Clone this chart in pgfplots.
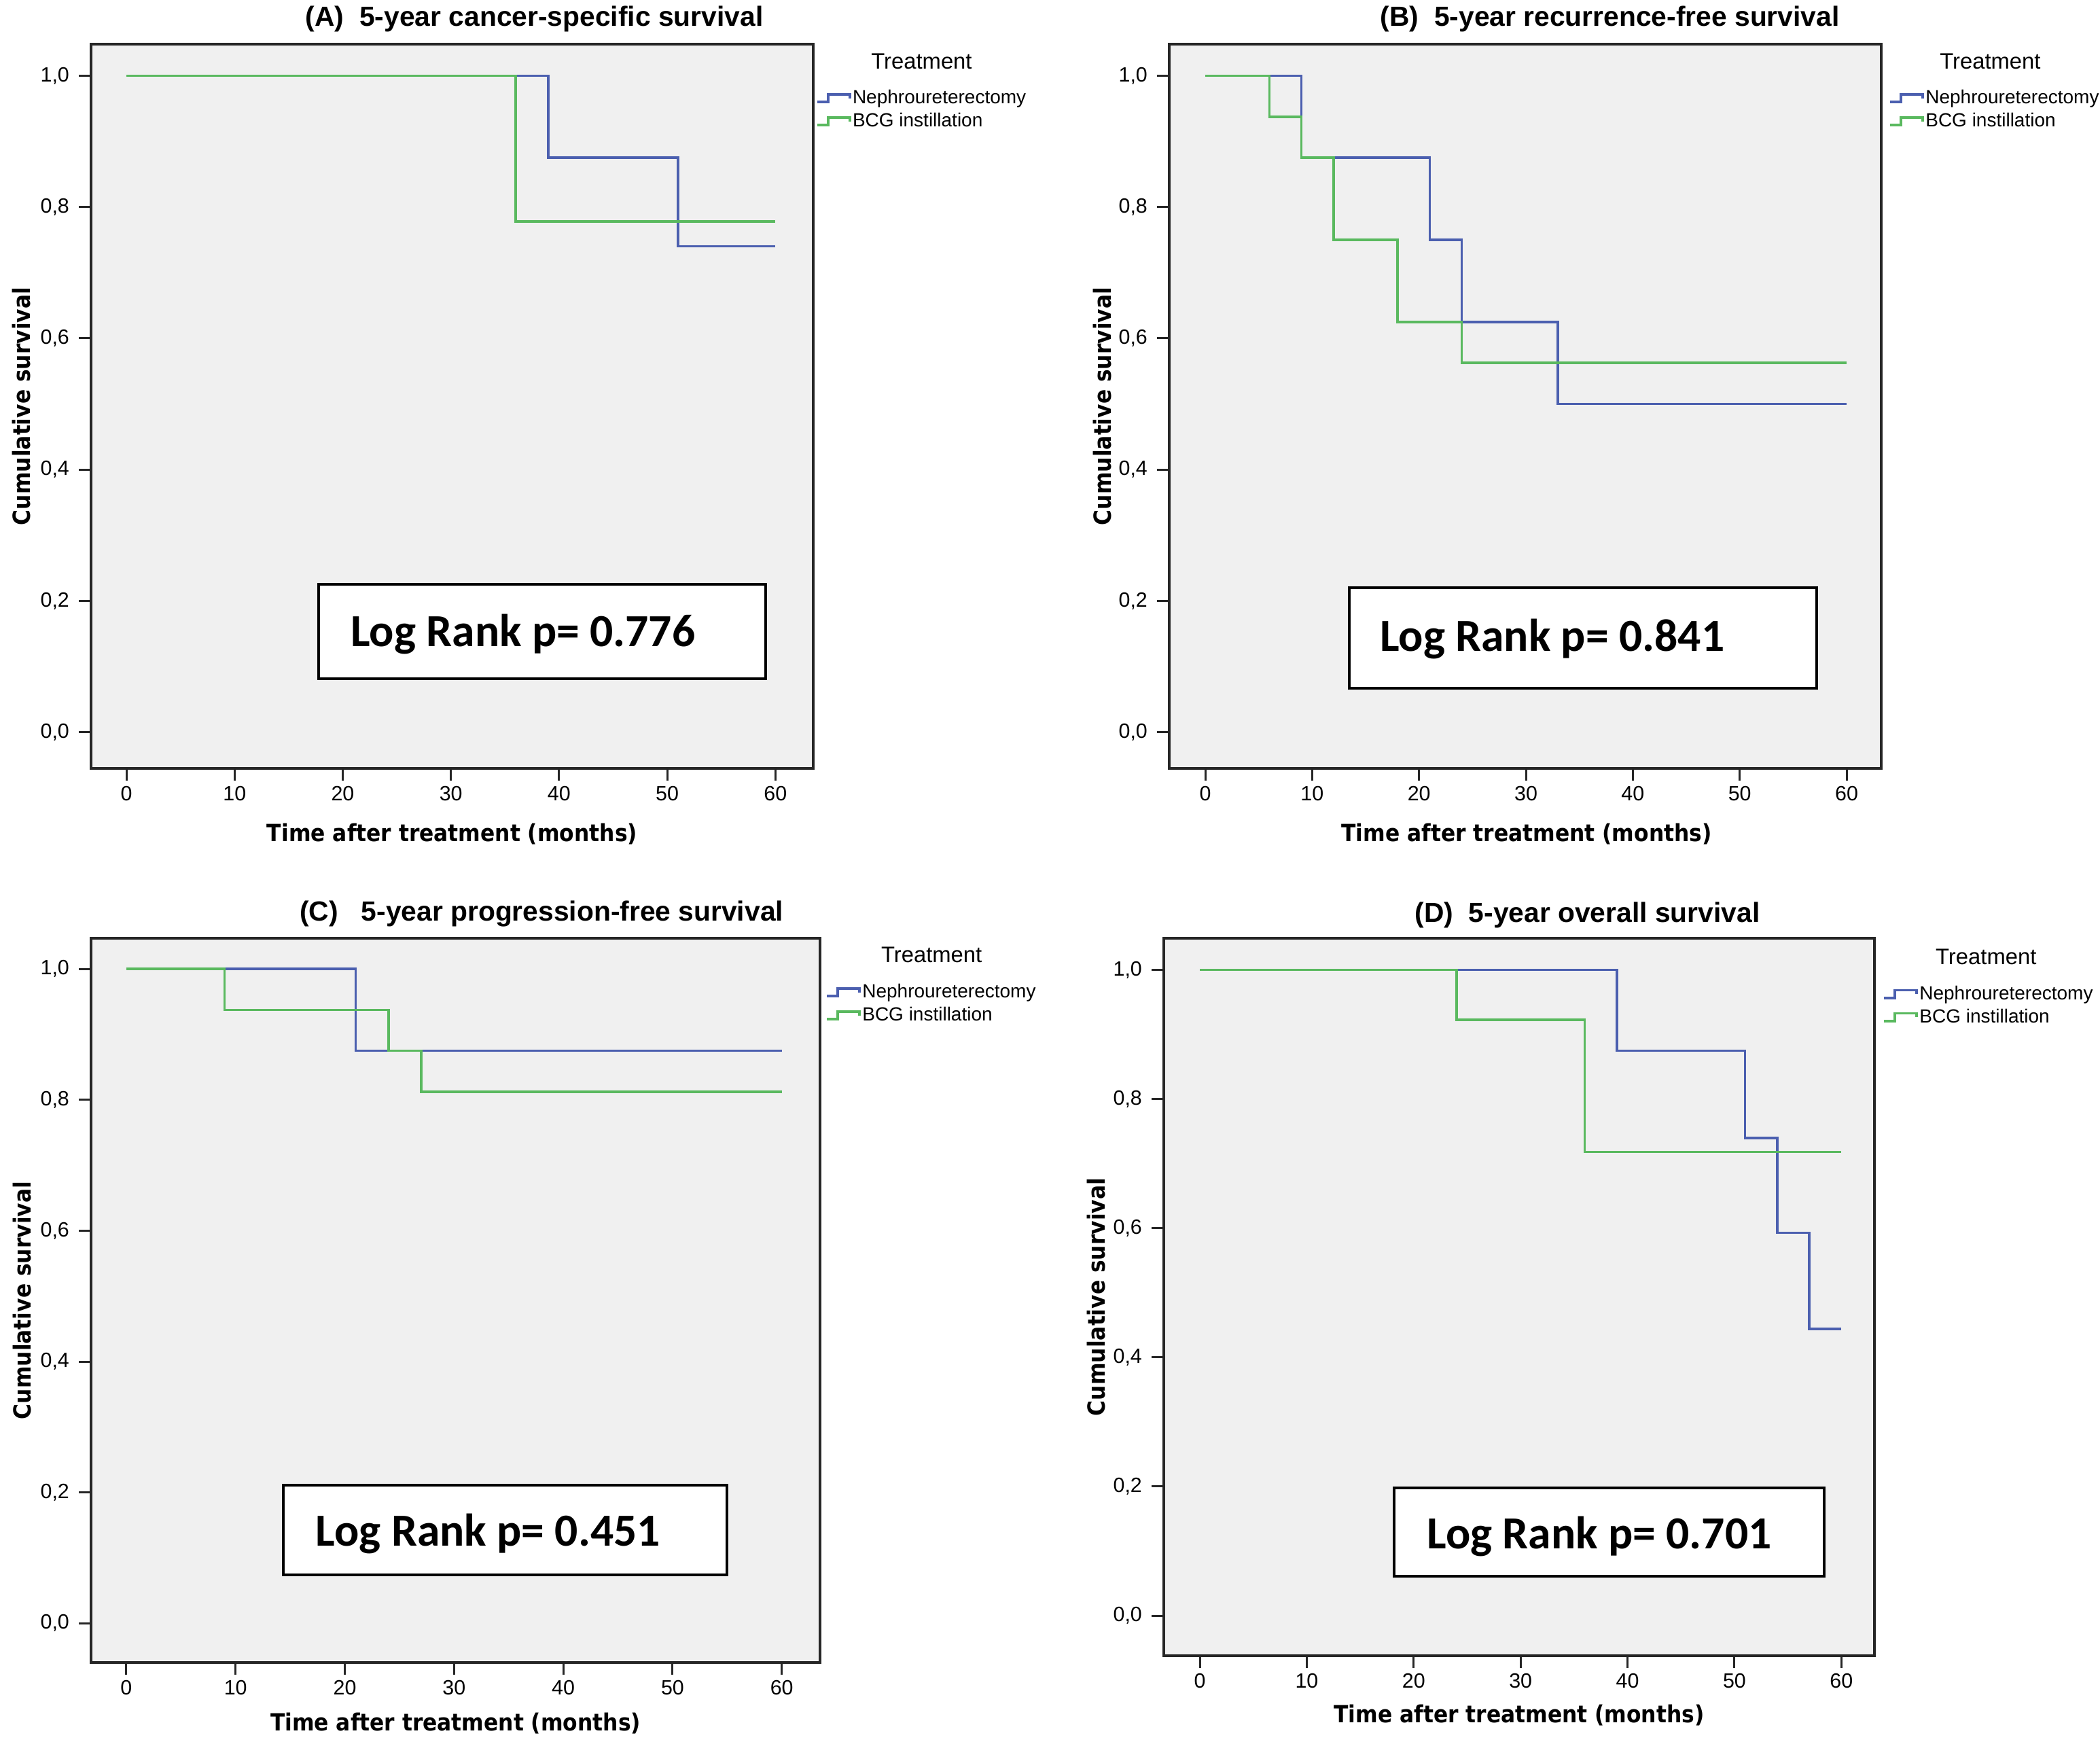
\documentclass[border=0pt]{standalone}
\usepackage{fontspec}
\setmainfont{Liberation Sans}
\newfontfamily\labfont[FakeStretch=0.9]{DejaVu Sans}
\newfontfamily\calfont{Carlito}
\usepackage{pgfplots}
\pgfplotsset{compat=1.18}

\definecolor{kmblue}{RGB}{75,95,175}
\definecolor{kmgreen}{RGB}{90,185,95}
\definecolor{panelbg}{RGB}{240,240,240}

\pgfplotsset{
  km/.style={
    scale only axis,
    axis background/.style={fill=panelbg},
    axis line style={line width=0.9pt, black!85},
    tick align=outside,
    tick pos=left,
    major tick length=4.5pt,
    every tick/.style={line width=0.75pt, black!85},
    xtick={0,10,20,30,40,50,60},
    ytick={0,0.2,0.4,0.6,0.8,1},
    /pgf/number format/assume math mode=true,
    tick label style={font=\fontsize{7.6}{8}\selectfont},
    xticklabel style={yshift=1.5pt},
    yticklabel style={/pgf/number format/.cd, fixed, fixed zerofill, precision=1, use comma},
    xlabel={Time after treatment (months)},
    ylabel={Cumulative survival},
    label style={font=\labfont\bfseries\fontsize{8.7}{10}\selectfont},
    ylabel style={anchor=center},
    xlabel style={anchor=center},
    every axis title shift=0pt,
    title style={font=\bfseries\fontsize{10.2}{12}\selectfont, anchor=center},
    clip=false,
    legend style={draw=none, fill=none, inner sep=0pt, anchor=north west,
      font=\fontsize{7}{8}\selectfont, row sep=0pt,
      nodes={inner ysep=0pt, inner xsep=0.6pt, text height=6.3pt, text depth=2.2pt}},
    legend cell align=left,
    legend image code/.code={\draw[#1] (0pt,-1.4pt) -- (4pt,-1.4pt) -- (4pt,1.4pt) -- (12pt,1.4pt) -- (12pt,0pt);},
  },
  nephro/.style={kmblue, line width=0.9pt},
  bcg/.style={kmgreen, line width=0.9pt},
}

\newcommand{\logrank}{\calfont\bfseries\fontsize{16.9}{18}\selectfont}
\newcommand{\trt}{\fontsize{8.2}{9}\selectfont}

\begin{document}
\begin{tikzpicture}
\useasboundingbox (0,0) rectangle (772.75pt,640.75pt);

% (A)
\begin{axis}[km, at={(33.5pt,358pt)}, anchor=south west,
    width=265.75pt, height=266.5pt,
    xmin=-3.27, xmax=63.5, ymin=-0.055, ymax=1.048,
    title={(A)\ \ 5-year cancer-specific survival},
    title style={at={(axis description cs:0.614,1.035)}},
    ylabel style={at={(axis description cs:-0.096,0.5)}},
    xlabel style={at={(axis description cs:0.5,-0.091)}},
    legend style={at={(axis description cs:1.003,0.942)}}]
\addplot[nephro, const plot] coordinates {(0,1) (39,0.875) (51,0.74) (60,0.74)};
\addplot[bcg, const plot] coordinates {(0,1) (36,0.778) (60,0.778)};
\legend{Nephroureterectomy, BCG instillation}
\node[font=\trt] at (axis description cs:1.15,0.976) {Treatment};
\draw[line width=1pt, fill=white] (axis cs:17.8,0.082) rectangle (axis cs:59.1,0.225);
\node[anchor=west, inner sep=0pt, font=\logrank] at (axis cs:20.7,0.149) {Log Rank p= 0.776};
\end{axis}

% (B)
\begin{axis}[km, at={(430.25pt,358pt)}, anchor=south west,
    width=262pt, height=266.5pt,
    xmin=-3.37, xmax=63.24, ymin=-0.055, ymax=1.048,
    title={(B)\ \ 5-year recurrence-free survival},
    title style={at={(axis description cs:0.619,1.035)}},
    ylabel style={at={(axis description cs:-0.094,0.5)}},
    xlabel style={at={(axis description cs:0.502,-0.091)}},
    legend style={at={(axis description cs:1.01,0.942)}}]
\addplot[nephro, const plot] coordinates {(0,1) (9,0.875) (21,0.75) (24,0.625) (33,0.5) (60,0.5)};
\addplot[bcg, const plot] coordinates {(0,1) (6,0.9375) (9,0.875) (12,0.75) (18,0.625) (24,0.5625) (60,0.5625)};
\legend{Nephroureterectomy, BCG instillation}
\node[font=\trt] at (axis description cs:1.153,0.976) {Treatment};
\draw[line width=1pt, fill=white] (axis cs:13.5,0.067) rectangle (axis cs:57.2,0.22);
\node[anchor=west, inner sep=0pt, font=\logrank] at (axis cs:16.3,0.142) {Log Rank p= 0.841};
\end{axis}

% (C)
\begin{axis}[km, at={(33.5pt,29pt)}, anchor=south west,
    width=268.25pt, height=266.5pt,
    xmin=-3.23, xmax=63.5, ymin=-0.06, ymax=1.047,
    title={(C)\ \ \ 5-year progression-free survival},
    title style={at={(axis description cs:0.618,1.034)}},
    ylabel style={at={(axis description cs:-0.095,0.5)}},
    xlabel style={at={(axis description cs:0.5,-0.084)}},
    legend style={at={(axis description cs:1.007,0.942)}}]
\addplot[nephro, const plot] coordinates {(0,1) (21,0.875) (60,0.875)};
\addplot[bcg, const plot] coordinates {(0,1) (9,0.9375) (24,0.875) (27,0.8125) (60,0.8125)};
\legend{Nephroureterectomy, BCG instillation}
\node[font=\trt] at (axis description cs:1.153,0.977) {Treatment};
\draw[line width=1pt, fill=white] (axis cs:14.4,0.074) rectangle (axis cs:55.0,0.211);
\node[anchor=west, inner sep=0pt, font=\logrank] at (axis cs:17.3,0.137) {Log Rank p= 0.451};
\end{axis}

% (D)
\begin{axis}[km, at={(428.25pt,31.5pt)}, anchor=south west,
    width=261.5pt, height=264pt,
    xmin=-3.37, xmax=63.1, ymin=-0.062, ymax=1.049,
    title={(D)\ \ 5-year overall survival},
    title style={at={(axis description cs:0.596,1.032)}},
    ylabel style={at={(axis description cs:-0.095,0.5)}},
    xlabel style={at={(axis description cs:0.5,-0.083)}},
    legend style={at={(axis description cs:1.011,0.939)}}]
\addplot[nephro, const plot] coordinates {(0,1) (39,0.875) (51,0.74) (54,0.593) (57,0.444) (60,0.444)};
\addplot[bcg, const plot] coordinates {(0,1) (24,0.923) (36,0.718) (60,0.718)};
\legend{Nephroureterectomy, BCG instillation}
\node[font=\trt] at (axis description cs:1.157,0.974) {Treatment};
\draw[line width=1pt, fill=white] (axis cs:18.2,0.061) rectangle (axis cs:58.4,0.198);
\node[anchor=west, inner sep=0pt, font=\logrank] at (axis cs:21.2,0.123) {Log Rank p= 0.701};
\end{axis}
\end{tikzpicture}
\end{document}
